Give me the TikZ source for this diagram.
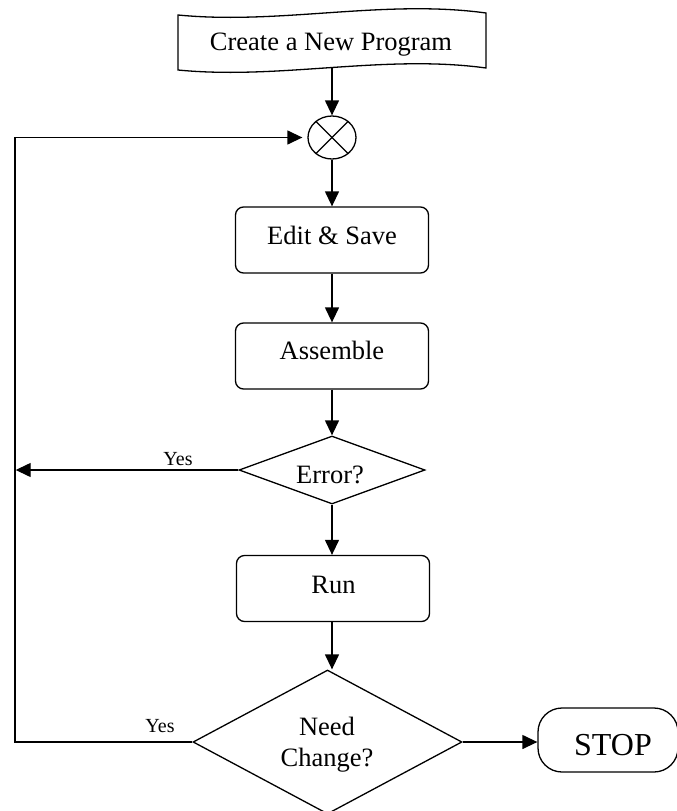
\documentclass[tikz,border=0pt]{standalone}
\usepackage{fontspec}
\setmainfont{Liberation Serif}
\usetikzlibrary{shapes.geometric,arrows.meta}
\begin{document}
\begin{tikzpicture}[x=1pt,y=-1pt,line width=1.3pt,
  arr/.style={-{Triangle[length=15pt,width=14pt]}},
  procbox/.style={draw,rounded corners=8pt,minimum width=193pt,minimum height=66pt,inner sep=0pt},
  decis/.style={draw,diamond,inner sep=0pt},
  txt/.style={font=\fontsize{26.5}{31}\selectfont,anchor=base,inner sep=0pt},
  yeslbl/.style={font=\fontsize{20}{24}\selectfont,anchor=base,inner sep=0pt}]
\useasboundingbox (0,0) rectangle (677,811);
% tape
\draw (178,15) .. controls (280,25) and (384,-1) .. (486,13) -- (486,68)
      .. controls (384,54) and (280,80) .. (178,70) -- cycle;
\coordinate (tapebot) at (332,67.5);
\node[txt] (create) at (331,50) {Create a New Program};
% merge
\node[draw,ellipse,minimum width=48pt,minimum height=43pt,inner sep=0pt] (merge) at (332,137.5) {};
\draw (merge.135) -- (merge.-45);
\draw (merge.45) -- (merge.-135);
% boxes
\node[procbox] (edit) at (332,240) {};
\node[txt] (editt) at (332,244) {Edit \& Save};
\node[procbox] (asm) at (332,356) {};
\node[txt] (asmt) at (332,359) {Assemble};
\node[decis,minimum width=186pt,minimum height=68pt] (err) at (332,470) {};
\node[txt] (errt) at (330,483) {Error?};
\node[procbox] (run) at (333,588.5) {};
\node[txt] (runt) at (333.5,593) {Run};
\node[decis,minimum width=269pt,minimum height=144pt] (need) at (327.5,742) {};
\node[txt] (needt1) at (327,735) {Need};
\node[txt] (needt2) at (327,766) {Change?};
\node[draw,rounded corners=24pt,minimum width=140pt,minimum height=64pt,inner sep=0pt] (stop) at (608,740) {};
\node[font=\fontsize{32}{38}\selectfont,anchor=base,inner sep=0pt] (stopt) at (613,755) {STOP};
% feedback corners
\coordinate (fbtop) at (15,137.5);
\coordinate (fbbot) at (15,742);
% connectors
\draw[arr] (tapebot) -- (merge.north);
\draw[arr] (merge.south) -- (edit.north);
\draw[arr] (edit.south) -- (asm.north);
\draw[arr] (asm.south) -- (asm.south |- err.north);
\draw[arr] (err.south) -- (err.south |- run.north);
\draw[arr] (run.south -| err.south) -- (err.south |- need.north);
\draw[arr] (need.east) -- (need.east -| stop.west);
\draw[arr] (err.west) -- ([xshift=0.7pt]fbtop |- err.west);
\draw[arr,shorten >=5pt] (need.west) -- (fbbot) -- (fbtop) -- (merge.west);
\node[yeslbl] (yes1) at (178,465) {Yes};
\node[yeslbl] (yes2) at (160,732) {Yes};
\end{tikzpicture}
\end{document}
